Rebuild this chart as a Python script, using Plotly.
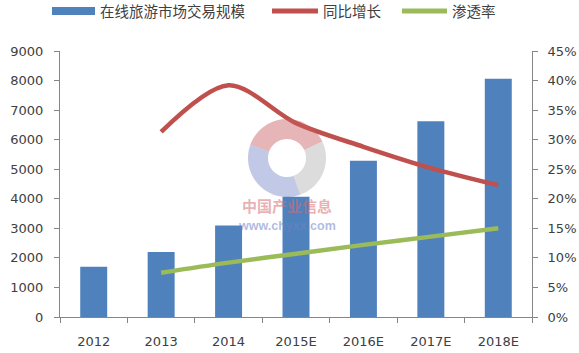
import math
import plotly.graph_objects as go

categories = ["2012", "2013", "2014", "2015E", "2016E", "2017E", "2018E"]
market_size = [1700, 2200, 3100, 4070, 5290, 6620, 8060]
yoy_cats = ["2013", "2014", "2015E", "2016E", "2017E", "2018E"]
yoy_growth = [0.313, 0.392, 0.328, 0.288, 0.252, 0.223]
penetration = [0.075, 0.092, 0.107, 0.122, 0.136, 0.150]
series_names = ["在线旅游市场交易规模", "同比增长", "渗透率"]
series_colors = ["#4F81BD", "#C0504D", "#9BBB59"]

W, H = 579, 353
L, R, T, B = 60, 47, 51, 36
pw, ph = W - L - R, H - T - B

def px2paper(x, y):
    return (x - L) / pw, (H - B - y) / ph

fig = go.Figure()
fig.add_trace(go.Bar(x=categories, y=market_size, name=series_names[0],
                     marker=dict(color=series_colors[0], line=dict(width=0)), yaxis="y"))
fig.add_trace(go.Scatter(x=yoy_cats, y=yoy_growth, name=series_names[1], mode="lines",
                         line=dict(color=series_colors[1], width=4.5, shape="spline", smoothing=0.9),
                         yaxis="y2"))
fig.add_trace(go.Scatter(x=yoy_cats, y=penetration, name=series_names[2], mode="lines",
                         line=dict(color=series_colors[2], width=4.5, shape="spline"),
                         yaxis="y2"))

# watermark logo (annular sectors)
def sector(cx, cy, r1, r2, a0, a1, n=30):
    pts = []
    for i in range(n + 1):
        a = math.radians(a0 + (a1 - a0) * i / n)
        pts.append(px2paper(cx + r2 * math.cos(a), cy - r2 * math.sin(a)))
    for i in range(n, -1, -1):
        a = math.radians(a0 + (a1 - a0) * i / n)
        pts.append(px2paper(cx + r1 * math.cos(a), cy - r1 * math.sin(a)))
    return "M " + " L ".join(f"{x:.4f},{y:.4f}" for x, y in pts) + " Z"

cx, cy = 287, 158
shapes = []
for a0, a1, col in [(25, 160, "rgba(200,90,95,0.45)"),
                    (160, 290, "rgba(120,135,200,0.45)"),
                    (-70, 25, "rgba(185,185,185,0.5)")]:
    shapes.append(dict(type="path", path=sector(cx, cy, 19, 39, a0, a1),
                       xref="paper", yref="paper", line=dict(width=0), fillcolor=col,
                       layer="above"))

ax1, ay1 = px2paper(287, 206)
ax2, ay2 = px2paper(287, 235)
annotations = [
    dict(text="<b>中国产业信息</b>", x=ax1, y=ay1, xref="paper", yref="paper", showarrow=False,
         font=dict(family="Noto Sans CJK SC", size=15, color="rgba(215,110,115,0.55)")),
    dict(text="<b>www.chyxx.com</b>", x=ax2, y=ay2, xref="paper", yref="paper", showarrow=False,
         font=dict(family="Liberation Sans", size=12.5, color="rgba(110,130,200,0.55)")),
]

# manual legend (pixel layout converted to paper)
leg_sym = [(52, 95), (272, 318), (402, 447)]
leg_y = 11
for i, (x0, x1) in enumerate(leg_sym):
    if i == 0:
        p0 = px2paper(x0, leg_y - 4)
        p1 = px2paper(x1, leg_y + 4)
        shapes.append(dict(type="rect", xref="paper", yref="paper", x0=p0[0], x1=p1[0],
                           y0=p1[1], y1=p0[1], fillcolor=series_colors[i], line=dict(width=0)))
    else:
        p0 = px2paper(x0, leg_y)
        p1 = px2paper(x1, leg_y)
        shapes.append(dict(type="line", xref="paper", yref="paper", x0=p0[0], x1=p1[0],
                           y0=p0[1], y1=p1[1], line=dict(color=series_colors[i], width=5)))
    tx, ty = px2paper(x1 + 3, leg_y - 1)
    annotations.append(dict(text=series_names[i], x=tx, y=ty, xref="paper", yref="paper",
                            xanchor="left", yanchor="middle", showarrow=False,
                            font=dict(family="Noto Sans CJK SC", size=14.5, color="#404040")))

axis_common = dict(showline=True, linecolor="#868686", linewidth=1, ticks="outside",
                   ticklen=5, tickcolor="#868686", showgrid=False, zeroline=False,
                   tickfont=dict(family="DejaVu Sans", size=13, color="#404040"))

fig.update_layout(
    width=W, height=H,
    margin=dict(l=L, r=R, t=T, b=B, autoexpand=False),
    paper_bgcolor="white", plot_bgcolor="white",
    bargap=0.6,
    showlegend=False,
    xaxis=dict(type="category", range=[-0.5, 6.5], tickson="boundaries",
               ticklabelstandoff=12, **axis_common),
    yaxis=dict(range=[0, 9000], dtick=1000, ticklabelstandoff=8, **axis_common),
    yaxis2=dict(range=[0, 0.45], dtick=0.05, tickformat=".0%", overlaying="y", side="right",
                ticklabelstandoff=7, **axis_common),
    shapes=shapes,
    annotations=annotations,
)

fig.write_html("out.html")
